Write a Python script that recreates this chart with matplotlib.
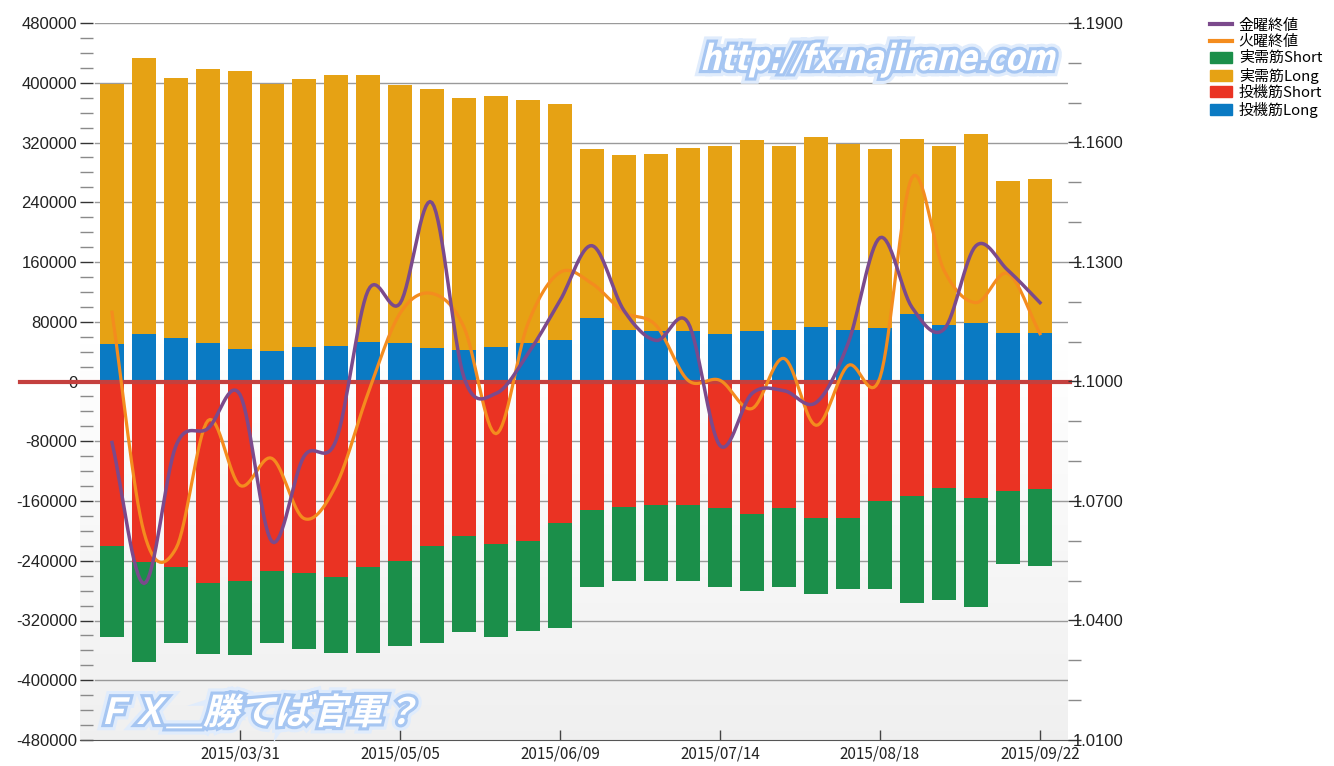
import matplotlib
matplotlib.use('Agg')
import matplotlib.pyplot as plt
import matplotlib.patheffects as pe
from matplotlib.ticker import MultipleLocator, FixedLocator, FuncFormatter
from matplotlib.textpath import TextPath
from matplotlib.patches import PathPatch, Patch
from matplotlib.lines import Line2D
from matplotlib.font_manager import FontProperties
from matplotlib.transforms import Affine2D, blended_transform_factory
import numpy as np
import pandas as pd

plt.rcParams['font.family'] = ['Liberation Sans', 'Noto Sans CJK JP', 'DejaVu Sans']
plt.rcParams['axes.unicode_minus'] = False

# 週次データ (2015/03/03 - 2015/09/22, 火曜日)
dates = pd.date_range('2015-03-03', periods=30, freq='7D').strftime('%Y/%m/%d').tolist()

spec_long = [50000, 64000, 58600, 52000, 43000, 41000, 46000, 48000, 53000, 51000,
             44700, 41600, 46000, 51000, 55000, 84500, 68800, 68000, 67000, 63000,
             68000, 68800, 72400, 68800, 71000, 90000, 76000, 78700, 65000, 65000]
real_long = [348000, 369000, 348400, 367000, 373000, 357000, 359000, 363000, 358000, 345500,
             346900, 337900, 336600, 326000, 317000, 226500, 233800, 236400, 245500, 251700,
             255600, 245900, 254400, 249200, 240000, 235000, 238700, 252900, 202800, 206000]
spec_short = [-220800, -241800, -249000, -269500, -267000, -254000, -257000, -262000, -248500, -241000,
              -220800, -207400, -217000, -214000, -189500, -172600, -168000, -165000, -165000, -170000,
              -177000, -170000, -182800, -182800, -160500, -153300, -142600, -155600, -147000, -144400]
real_short = [-121200, -134200, -101000, -95500, -98700, -96000, -101000, -101000, -114500, -113000,
              -129200, -128300, -125000, -120000, -140500, -101900, -99000, -102000, -102000, -104500,
              -103000, -104500, -102200, -94800, -117100, -143500, -149400, -146400, -97500, -102300]

fri_close = [1.0847, 1.0493, 1.0839, 1.0882, 1.0967, 1.0598, 1.0812, 1.0852, 1.1228, 1.1196,
             1.1449, 1.1010, 1.0970, 1.1070, 1.1203, 1.1341, 1.1178, 1.1103, 1.1148, 1.0839,
             1.0970, 1.0977, 1.0947, 1.1095, 1.1361, 1.1186, 1.1131, 1.1341, 1.1279, 1.1198]
tue_close = [1.1174, 1.0621, 1.0581, 1.0902, 1.0739, 1.0807, 1.0656, 1.0739, 1.0970, 1.1171,
             1.1221, 1.1136, 1.0869, 1.1146, 1.1274, 1.1246, 1.1174, 1.1141, 1.1003, 1.1003,
             1.0932, 1.1058, 1.0890, 1.1040, 1.1010, 1.1512, 1.1279, 1.1198, 1.1271, 1.1120]

labels = ['金曜終値', '火曜終値', '実需筋Short', '実需筋Long', '投機筋Short', '投機筋Long']
c_fri, c_tue = '#7b4a8c', '#f48c1e'
c_rs, c_rl, c_ss, c_sl = '#1b8f4a', '#e6a214', '#ea3323', '#0a7ac3'


def smooth(y, n=16):
    # Catmull-Rom で描画用に滑らかにする
    y = np.asarray(y, float)
    yp = np.concatenate([[2 * y[0] - y[1]], y, [2 * y[-1] - y[-2]]])
    t = np.linspace(0, 1, n, endpoint=False)
    xs, ys = [], []
    for i in range(len(y) - 1):
        p0, p1, p2, p3 = yp[i:i + 4]
        ys.append(0.5 * (2 * p1 + (-p0 + p2) * t + (2 * p0 - 5 * p1 + 4 * p2 - p3) * t ** 2
                         + (-p0 + 3 * p1 - 3 * p2 + p3) * t ** 3))
        xs.append(i + t)
    xs.append([len(y) - 1])
    ys.append([y[-1]])
    return np.concatenate(xs), np.concatenate(ys)


W, H = 1334, 766
fig = plt.figure(figsize=(W / 100, H / 100), dpi=100)
ax = fig.add_axes([80 / W, 26 / H, 988 / W, 717 / H])

x = np.arange(len(dates))
bw = 0.78

# 背景グラデーション
grad = np.ones((256, 1, 3))
fy = np.linspace(1, 0, 256)
shade = np.clip((0.55 - fy) / 0.55, 0, 1) * 0.06
grad[:, 0, :] = (1 - shade)[:, None]
ax.imshow(grad, extent=[0, 1, 0, 1], transform=ax.transAxes, aspect='auto', zorder=0)

for v in np.arange(-400000, 480001, 80000):
    ax.axhline(v, xmin=15 / 988, xmax=1, color='#9a9a9a', lw=1.0, zorder=1)

ax.bar(x, spec_long, bw, color=c_sl, zorder=2)
ax.bar(x, real_long, bw, bottom=spec_long, color=c_rl, zorder=2)
ax.bar(x, spec_short, bw, color=c_ss, zorder=2)
ax.bar(x, real_short, bw, bottom=spec_short, color=c_rs, zorder=2)

tr = blended_transform_factory(ax.transAxes, ax.transData)
ax.plot([-60 / 988, 1.002], [0, 0], color='#c4403e', lw=3, transform=tr, clip_on=False, zorder=3)

ax.set_xlim(-1, 29.875)
ax.set_ylim(-480000, 480000)
ax.yaxis.set_major_locator(MultipleLocator(80000))
ax.yaxis.set_minor_locator(MultipleLocator(20000))
ax.yaxis.set_major_formatter(FuncFormatter(lambda v, p: '%d' % v))
ax.tick_params(axis='y', which='major', direction='in', length=9.5, width=1, color='#333333',
               labelsize=12, pad=2, labelcolor='#222222')
ax.tick_params(axis='y', which='minor', direction='in', length=9.5, width=1, color='#8a8a8a')
ax.set_xticks([4, 9, 14, 19, 24, 29])
ax.set_xticklabels([dates[i] for i in [4, 9, 14, 19, 24, 29]], family='Noto Sans CJK JP', fontsize=11)
ax.tick_params(axis='x', direction='in', length=7, width=1, color='#444444', pad=4, labelcolor='#222222')
for s in ['left', 'top', 'right']:
    ax.spines[s].set_visible(False)
ax.spines['bottom'].set_color('#555555')

ax2 = ax.twinx()
xf, yf = smooth(fri_close)
xt, yt = smooth(tue_close)
ax2.plot(xt, yt, color=c_tue, lw=2.3, zorder=4)
ax2.plot(xf, yf, color=c_fri, lw=2.5, zorder=5)
ax2.set_ylim(1.01, 1.19)
ax2.yaxis.set_major_locator(FixedLocator(np.arange(1.01, 1.1901, 0.03)))
ax2.yaxis.set_minor_locator(FixedLocator([v for v in np.arange(1.01, 1.19, 0.01)
                                          if abs((v - 1.01) / 0.03 - round((v - 1.01) / 0.03)) > 0.01]))
ax2.yaxis.set_major_formatter(FuncFormatter(lambda v, p: '%.4f' % v))
ax2.tick_params(axis='y', which='major', direction='out', length=9.5, width=1, color='#333333',
                labelsize=12, pad=-6, labelcolor='#222222')
ax2.tick_params(axis='y', which='minor', direction='out', length=9.5, width=1, color='#8a8a8a')
for s in ['left', 'top', 'right', 'bottom']:
    ax2.spines[s].set_visible(False)

handles = [Line2D([], [], color=c_fri, lw=3), Line2D([], [], color=c_tue, lw=3),
           Patch(color=c_rs), Patch(color=c_rl), Patch(color=c_ss), Patch(color=c_sl)]
fig.legend(handles, labels, loc='upper left', bbox_to_anchor=(1196 / W, 1 - 5 / H),
           frameon=False, prop=FontProperties(family='Noto Sans CJK JP', size=10.8),
           handlelength=1.5, handleheight=0.75, labelspacing=0.15, handletextpad=0.45)


def watermark(s, x0, y0, size, family, weight, sx=1.0):
    tp = TextPath((0, 0), s, size=size, prop=FontProperties(family=family, weight=weight))
    t = Affine2D().scale(sx, 1).skew_deg(14, 0).translate(x0, H - y0)
    patch = PathPatch(tp, facecolor='white', edgecolor='none', transform=t, zorder=10)
    patch.set_path_effects([pe.Stroke(linewidth=9, foreground='#e0ecfc'),
                            pe.Stroke(linewidth=4.5, foreground='#a6c6f2'), pe.Normal()])
    fig.add_artist(patch)


watermark('http://fx.najirane.com', 700, 70, 36, 'DejaVu Sans', 'bold', sx=0.8)
watermark('ＦＸ＿勝てば官軍？', 95, 724, 36, 'Noto Sans CJK JP', 'bold')

fig.savefig('out.png', dpi=100)
